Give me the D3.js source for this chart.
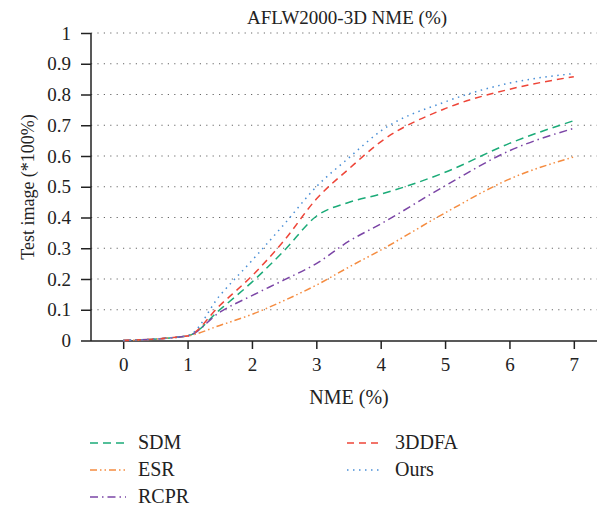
<!DOCTYPE html>
<html>
<head>
<meta charset="utf-8">
<script src="https://cdn.jsdelivr.net/npm/d3@7"></script>
<style>
  body { margin: 0; background: white; }
  svg text { font-family: "Liberation Serif", "DejaVu Serif", serif; }
</style>
</head>
<body>
<svg id="chart" width="597" height="507"></svg>
<script>

// NME values (x) at which curves were read
let nme = [0, 1, 1.5, 2, 2.5, 3, 3.5, 4, 5, 6, 7];

let sdm   = [0, 0.015, 0.10, 0.19, 0.292, 0.404, 0.449, 0.476, 0.547, 0.641, 0.715];
let esr   = [0, 0.015, 0.049, 0.085, 0.13, 0.18, 0.238, 0.294, 0.415, 0.525, 0.597];
let rcpr  = [0, 0.015, 0.092, 0.146, 0.197, 0.25, 0.322, 0.379, 0.503, 0.617, 0.69];
let ddfa  = [0, 0.015, 0.114, 0.21, 0.325, 0.46, 0.557, 0.646, 0.754, 0.817, 0.858];
let ours  = [0, 0.015, 0.146, 0.26, 0.378, 0.50, 0.593, 0.681, 0.776, 0.837, 0.868];

let seriesNames = ["SDM", "ESR", "RCPR", "3DDFA", "Ours"];
let xTicks = [0, 1, 2, 3, 4, 5, 6, 7];
let yTicks = [0, 0.1, 0.2, 0.3, 0.4, 0.5, 0.6, 0.7, 0.8, 0.9, 1];

let styles = {
    "SDM":   {color: "#1bab78", dash: "8,5"},
    "ESR":   {color: "#f58c40", dash: "7,3,1.5,3,1.5,3"},
    "RCPR":  {color: "#7b45a6", dash: "8,4,1.5,4"},
    "3DDFA": {color: "#ee4538", dash: "7,5"},
    "Ours":  {color: "#4a8fd6", dash: "1.5,4.5"}
};

const serif = "Liberation Serif";

function makeChart(id) {
    let width = 597;
    let height = 507;
    let margins = {top: 33, right: 0, bottom: 166, left: 91};
    let innerWidth = width - margins.left - margins.right;
    let innerHeight = height - margins.top - margins.bottom;

    let chart = d3.select("#" + id);

    let xScale = d3.scaleLinear().domain([-0.5, 7.36]).range([0, innerWidth]);
    let yScale = d3.scaleLinear().domain([0, 1]).range([innerHeight - 0.5, 0]);

    let g = chart.append("g")
        .attr("transform", `translate(${margins.left},${margins.top})`);

    // dotted horizontal grid
    g.selectAll(".grid").data(yTicks.filter(d => d > 0)).enter()
        .append("line").attr("class", "grid")
        .attr("x1", 0).attr("x2", innerWidth)
        .attr("y1", d => yScale(d)).attr("y2", d => yScale(d))
        .style("stroke", "#666")
        .style("stroke-width", 1.2)
        .style("stroke-dasharray", "1.2,5.2");

    let xAxis = g.append("g")
        .attr("transform", `translate(0,${innerHeight})`)
        .call(d3.axisBottom(xScale).tickValues(xTicks).tickSize(8).tickPadding(9).tickFormat(d3.format("d")));
    let yAxis = g.append("g")
        .call(d3.axisLeft(yScale).tickValues(yTicks).tickSize(10).tickPadding(10).tickFormat(d => d === 0 || d === 1 ? d : d3.format(".1f")(d)));

    [xAxis, yAxis].forEach(ax => {
        ax.attr("font-family", serif);
        ax.select(".domain").style("stroke", "#222").style("stroke-width", 1.5);
        ax.selectAll(".tick line").style("stroke", "#222").style("stroke-width", 1.5);
        ax.selectAll(".tick text").style("font-family", serif).style("font-size", "19px").style("fill", "#222");
    });
    xAxis.select(".domain").attr("d", `M0,0H${innerWidth}`);
    yAxis.select(".domain").attr("d", `M0,${innerHeight}V0`);

    let seriesData = [sdm, esr, rcpr, ddfa, ours];
    let line = d3.line()
        .x((d, i) => xScale(nme[i]))
        .y(d => yScale(d))
        .curve(d3.curveMonotoneX);

    g.selectAll(".series").data(seriesNames).enter()
        .append("path").attr("class", "series")
        .attr("d", (name, i) => line(seriesData[i]))
        .style("fill", "none")
        .style("stroke", name => styles[name].color)
        .style("stroke-width", 1.5)
        .style("stroke-dasharray", name => styles[name].dash);

    // title and axis labels
    chart.append("text")
        .attr("x", 347).attr("y", 24)
        .attr("text-anchor", "middle")
        .style("font-family", serif)
        .style("font-size", "19px").style("fill", "#222")
        .text("AFLW2000-3D NME (%)");

    chart.append("text")
        .attr("x", 349).attr("y", 404)
        .attr("text-anchor", "middle")
        .style("font-family", serif)
        .style("font-size", "20px").style("fill", "#222")
        .text("NME (%)");

    chart.append("text")
        .attr("transform", "translate(34,187) rotate(-90)")
        .attr("text-anchor", "middle")
        .style("font-family", serif)
        .style("font-size", "18px").style("fill", "#222")
        .text("Test image (*100%)");

    // legend
    let legendPos = {
        "SDM":   [90, 443],
        "ESR":   [90, 470],
        "RCPR":  [90, 497],
        "3DDFA": [347, 443],
        "Ours":  [347, 470]
    };
    let legend = chart.selectAll(".legend").data(seriesNames).enter()
        .append("g").attr("class", "legend")
        .attr("transform", d => `translate(${legendPos[d][0]},${legendPos[d][1]})`);
    legend.append("line")
        .attr("x1", 0).attr("x2", 36).attr("y1", 0).attr("y2", 0)
        .style("stroke", d => styles[d].color)
        .style("stroke-width", 1.5)
        .style("stroke-dasharray", d => styles[d].dash);
    legend.append("text")
        .attr("x", 48).attr("y", 6)
        .style("font-family", serif)
        .style("font-size", "20px").style("fill", "#222")
        .text(d => d);
}

makeChart("chart");
</script>
</body>
</html>
